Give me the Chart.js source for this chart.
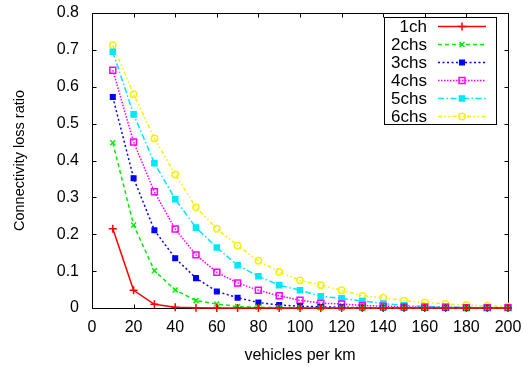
<!DOCTYPE html>
<html>
<head>
<meta charset="utf-8">
<script src="https://cdn.jsdelivr.net/npm/chart.js@4.4.1/dist/chart.umd.min.js"></script>
<style>
  html, body { margin: 0; padding: 0; background: #ffffff; }
  #c { display: block; }
</style>
</head>
<body>
<canvas id="c" width="524" height="367"></canvas>
<script>
// ---- data ----
const vehiclesPerKm = [10, 20, 30, 40, 50, 60, 70, 80, 90, 100, 110, 120, 130, 140, 150, 160, 170, 180, 190, 200];
const seriesNames = ["1ch", "2chs", "3chs", "4chs", "5chs", "6chs"];
const loss1ch = [0.215, 0.048, 0.010, 0.002, 0.0005, 0.0001, 0, 0, 0, 0, 0, 0, 0, 0, 0, 0, 0, 0, 0, 0];
const loss2chs = [0.448, 0.225, 0.101, 0.049, 0.020, 0.011, 0.004, 0.002, 0.001, 0.0005, 0.0002, 0.0001, 0, 0, 0, 0, 0, 0, 0, 0];
const loss3chs = [0.572, 0.352, 0.211, 0.135, 0.081, 0.045, 0.028, 0.015, 0.008, 0.005, 0.003, 0.002, 0.001, 0.0007, 0.0005, 0.0003, 0.0002, 0.0001, 0.0001, 0.0001];
const loss4chs = [0.645, 0.450, 0.315, 0.214, 0.144, 0.097, 0.068, 0.048, 0.033, 0.021, 0.013, 0.011, 0.007, 0.005, 0.003, 0.002, 0.002, 0.001, 0.001, 0.001];
const loss5chs = [0.695, 0.525, 0.393, 0.295, 0.218, 0.164, 0.116, 0.086, 0.062, 0.048, 0.032, 0.026, 0.019, 0.012, 0.007, 0.004, 0.003, 0.002, 0.001, 0.001];
const loss6chs = [0.713, 0.580, 0.460, 0.362, 0.273, 0.215, 0.169, 0.128, 0.098, 0.075, 0.062, 0.048, 0.033, 0.028, 0.020, 0.015, 0.011, 0.008, 0.006, 0.004];
const xTickValues = [0, 20, 40, 60, 80, 100, 120, 140, 160, 180, 200];
const yTickValues = [0, 0.1, 0.2, 0.3, 0.4, 0.5, 0.6, 0.7, 0.8];
const xAxisTitle = "vehicles per km";
const yAxisTitle = "Connectivity loss ratio";

// ---- styles ----
const seriesValues = [loss1ch, loss2chs, loss3chs, loss4chs, loss5chs, loss6chs];
const styles = [
  { color: "#ff0000", dash: [], point: "cross", r: 4, fill: "#ff0000" },
  { color: "#00f000", dash: [4, 3], point: "crossRot", r: 3.5, fill: "#00f000" },
  { color: "#0000ff", dash: [2, 2.5], point: "rect", r: 3.2, fill: "#0000ff" },
  { color: "#ff00ff", dash: [1.5, 1.5], point: "rect", r: 4.2, fill: "rgba(0,0,0,0)" },
  { color: "#00e8f8", dash: [6, 2.5, 1.5, 2.5], point: "rect", r: 3.6, fill: "#00e8f8" },
  { color: "#f4f400", dash: [4, 2.5, 1.5, 2.5, 1.5, 2.5], point: "circle", r: 3.2, fill: "rgba(0,0,0,0)" }
];

const datasets = seriesNames.map((name, i) => ({
  label: name,
  data: vehiclesPerKm.map((x, j) => ({ x: x, y: seriesValues[i][j] })),
  borderColor: styles[i].color,
  backgroundColor: styles[i].fill,
  borderWidth: 1.5,
  borderDash: styles[i].dash,
  pointStyle: styles[i].point,
  pointRadius: styles[i].r,
  pointBorderColor: styles[i].color,
  pointBackgroundColor: styles[i].fill,
  pointBorderWidth: 1.5,
  tension: 0,
  fill: false,
  clip: false
}));

const FONT = "'Liberation Sans', Arial, Helvetica, sans-serif";

const framePlugin = {
  id: "frame",
  beforeDatasetsDraw(chart) {
    const { ctx, chartArea: a, scales } = chart;
    ctx.save();
    ctx.strokeStyle = "#000";
    ctx.lineWidth = 1;
    ctx.setLineDash([]);
    const L = Math.round(a.left) + 0.5, R = Math.round(a.right) + 0.5;
    const T = Math.round(a.top) + 0.5, B = Math.round(a.bottom) + 0.5;
    ctx.strokeRect(L, T, R - L, B - T);
    const tl = 4;
    ctx.beginPath();
    xTickValues.forEach(v => {
      const px = Math.round(scales.x.getPixelForValue(v)) + 0.5;
      ctx.moveTo(px, B); ctx.lineTo(px, B - tl);
      ctx.moveTo(px, T); ctx.lineTo(px, T + tl);
    });
    yTickValues.forEach(v => {
      const py = Math.round(scales.y.getPixelForValue(v)) + 0.5;
      ctx.moveTo(L, py); ctx.lineTo(L + tl, py);
      ctx.moveTo(R, py); ctx.lineTo(R - tl, py);
    });
    ctx.stroke();
    ctx.restore();
  },
  afterDraw(chart) {
    const { ctx } = chart;
    const box = { l: 384.5, t: 17.5, r: 496.5, b: 124.5 };
    ctx.save();
    ctx.fillStyle = "#fff";
    ctx.fillRect(box.l, box.t, box.r - box.l, box.b - box.t);
    ctx.strokeStyle = "#000";
    ctx.lineWidth = 1;
    ctx.setLineDash([]);
    ctx.strokeRect(box.l, box.t, box.r - box.l, box.b - box.t);
    chart.data.datasets.forEach((ds, i) => {
      const y = 26.5 + i * 18;
      ctx.fillStyle = "#000";
      ctx.font = "17px " + FONT;
      ctx.textAlign = "right";
      ctx.textBaseline = "middle";
      ctx.fillText(ds.label, 427, y + 1);
      ctx.strokeStyle = ds.borderColor;
      ctx.lineWidth = ds.borderWidth;
      ctx.setLineDash(ds.borderDash);
      ctx.beginPath();
      ctx.moveTo(438, y);
      ctx.lineTo(486, y);
      ctx.stroke();
      ctx.setLineDash([]);
      ctx.fillStyle = ds.pointBackgroundColor;
      ctx.strokeStyle = ds.pointBorderColor;
      ctx.lineWidth = ds.pointBorderWidth;
      Chart.helpers.drawPoint(ctx, {
        pointStyle: ds.pointStyle,
        radius: ds.pointRadius,
        rotation: 0,
        borderWidth: ds.pointBorderWidth
      }, 462, y);
    });
    ctx.restore();
  }
};

new Chart(document.getElementById("c"), {
  type: "line",
  data: { datasets: datasets },
  options: {
    responsive: false,
    animation: false,
    devicePixelRatio: 1,
    layout: { padding: { top: 13, right: 16, left: 0, bottom: 0 } },
    plugins: { legend: { display: false }, tooltip: { enabled: false } },
    scales: {
      x: {
        type: "linear",
        min: 0,
        max: 200,
        afterBuildTicks(scale) { scale.ticks = xTickValues.map(v => ({ value: v })); },
        afterFit(scale) { scale.height = 59; scale.paddingLeft = 0; scale.paddingRight = 0; },
        grid: { display: false, drawTicks: false },
        border: { display: false },
        ticks: { color: "#000", padding: 10, maxRotation: 0, font: { family: FONT, size: 16 } },
        title: { display: true, text: xAxisTitle, color: "#000", padding: { top: 0, bottom: 1.5 }, font: { family: FONT, size: 16 } }
      },
      y: {
        type: "linear",
        min: 0,
        max: 0.8,
        afterBuildTicks(scale) { scale.ticks = yTickValues.map(v => ({ value: v })); },
        afterFit(scale) { scale.width = 92; scale.paddingTop = 0; scale.paddingBottom = 0; },
        grid: { display: false, drawTicks: false },
        border: { display: false },
        ticks: { color: "#000", padding: 13, font: { family: FONT, size: 16 }, callback: v => String(Math.round(v * 10) / 10) },
        title: { display: true, text: yAxisTitle, color: "#000", padding: { top: 11.5, bottom: 0 }, font: { family: FONT, size: 14.5 } }
      }
    }
  },
  plugins: [framePlugin]
});
</script>
</body>
</html>
